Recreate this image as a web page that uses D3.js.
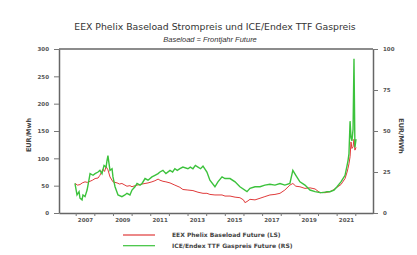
<!DOCTYPE html>
<html>
<head>
<meta charset="utf-8">
<script src="https://cdn.jsdelivr.net/npm/d3@7"></script>
<style>
  body { margin: 0; background: #fff; }
  text { font-family: "DejaVu Sans", Verdana, sans-serif; }
</style>
</head>
<body>
<script>
// Data (decimal year, value)
const powerYears = [2006.96, 2007.1, 2007.23, 2007.35, 2007.5, 2007.62, 2007.77, 2007.9, 2008.04, 2008.2, 2008.3, 2008.46, 2008.55, 2008.63, 2008.73, 2008.84, 2009.0, 2009.11, 2009.22, 2009.35, 2009.48, 2009.64, 2009.75, 2009.91, 2010.02, 2010.18, 2010.29, 2010.45, 2010.56, 2010.72, 2010.88, 2011.09, 2011.25, 2011.42, 2011.52, 2011.68, 2011.84, 2012.06, 2012.32, 2012.59, 2012.75, 2013.02, 2013.29, 2013.56, 2013.83, 2014.04, 2014.2, 2014.47, 2014.85, 2015.01, 2015.28, 2015.55, 2015.81, 2016.0, 2016.08, 2016.19, 2016.35, 2016.62, 2016.89, 2017.15, 2017.42, 2017.69, 2017.96, 2018.22, 2018.49, 2018.65, 2018.81, 2019.03, 2019.3, 2019.57, 2019.84, 2020.11, 2020.27, 2020.37, 2020.48, 2020.64, 2020.86, 2021.02, 2021.23, 2021.29, 2021.45, 2021.56, 2021.61, 2021.66, 2021.72, 2021.77, 2021.82, 2021.88, 2021.93, 2021.98, 2022.04];
const powerValues = [54, 51, 52, 55, 57, 56, 58, 60, 63, 64, 69, 80, 76, 85, 79, 66, 57, 56, 55, 53, 54, 51, 49, 50, 48, 50, 51, 52, 53, 54, 55, 57, 59, 62, 60, 58, 57, 55, 51, 47, 43, 42, 41, 38, 36, 36, 34, 33, 33, 31, 31, 29, 28, 24, 19, 21, 25, 24, 27, 30, 33, 34, 36, 42, 51, 54, 49, 48, 45, 46, 44, 37, 38, 37, 38, 39, 43, 47, 52, 55, 63, 75, 82, 90, 103, 130, 118, 121, 135, 115, 120];

const gasYears = [2006.96, 2007.07, 2007.18, 2007.23, 2007.34, 2007.39, 2007.5, 2007.61, 2007.71, 2007.77, 2007.93, 2008.04, 2008.2, 2008.3, 2008.41, 2008.52, 2008.63, 2008.68, 2008.73, 2008.79, 2008.84, 2008.95, 2009.0, 2009.11, 2009.27, 2009.48, 2009.64, 2009.75, 2009.91, 2010.02, 2010.18, 2010.29, 2010.45, 2010.56, 2010.72, 2010.88, 2011.09, 2011.25, 2011.42, 2011.52, 2011.68, 2011.84, 2012.06, 2012.2, 2012.32, 2012.45, 2012.59, 2012.75, 2013.02, 2013.15, 2013.29, 2013.42, 2013.56, 2013.7, 2013.83, 2014.04, 2014.2, 2014.47, 2014.63, 2014.85, 2015.01, 2015.28, 2015.55, 2015.81, 2016.19, 2016.35, 2016.62, 2016.89, 2017.15, 2017.42, 2017.69, 2017.96, 2018.22, 2018.49, 2018.65, 2018.81, 2019.03, 2019.3, 2019.57, 2019.84, 2020.11, 2020.27, 2020.48, 2020.64, 2020.86, 2021.02, 2021.23, 2021.45, 2021.56, 2021.61, 2021.66, 2021.72, 2021.77, 2021.82, 2021.88, 2021.93, 2021.98, 2022.04];
const gasValues = [18, 11, 13, 9, 8, 11, 10, 14, 20, 24, 23, 24, 25, 26, 24, 29, 28, 32, 35, 30, 26, 27, 22, 16, 11, 10, 11, 12, 11, 14, 16, 18, 17, 18, 21, 20, 22, 23, 24, 25, 26, 24, 26, 25, 27, 26, 27, 28, 27, 28, 27, 29, 28, 27, 28.6, 25, 20, 16, 19, 22, 21, 21, 19, 16, 13, 15, 16, 16, 17, 17.5, 17, 18, 17, 18, 26, 23, 19, 17, 14, 13, 12.5, 12.4, 13, 13, 14, 16, 19, 23, 29, 32, 36, 56, 46, 44, 51, 94, 40, 45];

const leftTicks = [0, 50, 100, 150, 200, 250, 300];
const rightTicks = [0, 25, 50, 75, 100];
const yearTicks = d3.range(2007, 2023);
const yearLabels = [2007, 2009, 2011, 2013, 2015, 2017, 2019, 2021];

const width = 417, height = 255;
const margin = { top: 49, right: 44, bottom: 42, left: 59 };

const svg = d3.select("body").append("svg")
    .attr("width", width)
    .attr("height", height);

const x = d3.scaleLinear()
    .domain([2006.104, 2022.95])
    .range([margin.left, width - margin.right]);

const yL = d3.scaleLinear().domain([0, 300]).range([height - margin.bottom, margin.top]);
const yR = d3.scaleLinear().domain([0, 100]).range([height - margin.bottom, margin.top]);

// Titles
svg.append("text")
    .attr("x", 215).attr("y", 30)
    .attr("text-anchor", "middle")
    .attr("font-size", 9.3)
    .attr("fill", "#333")
    .text("EEX Phelix Baseload Strompreis und ICE/Endex TTF Gaspreis");

svg.append("text")
    .attr("x", 210).attr("y", 42)
    .attr("text-anchor", "middle")
    .attr("font-size", 7.5)
    .attr("font-style", "italic")
    .style("font-family", "'Liberation Sans', Arial, sans-serif")
    .attr("fill", "#333")
    .text("Baseload = Frontjahr Future");

// Top border
svg.append("line")
    .attr("x1", margin.left).attr("x2", width - margin.right)
    .attr("y1", margin.top).attr("y2", margin.top)
    .attr("stroke", "#666").attr("stroke-width", 1.3);

// Axes
function styleAxis(g) {
    g.select(".domain").attr("stroke", "#666").attr("stroke-width", 1.5);
    g.selectAll(".tick line").attr("stroke", "#777");
    g.selectAll("text").attr("font-size", 5.5).attr("font-weight", "bold")
        .attr("fill", "#555").style("font-family", "'DejaVu Sans', sans-serif");
}

svg.append("g")
    .attr("transform", `translate(${margin.left},0)`)
    .call(d3.axisLeft(yL).tickValues(leftTicks).tickSize(5).tickSizeOuter(0).tickPadding(5))
    .call(styleAxis);

svg.append("g")
    .attr("transform", `translate(${width - margin.right},0)`)
    .call(d3.axisRight(yR).tickValues(rightTicks).tickSize(5).tickSizeOuter(0).tickPadding(5))
    .call(styleAxis);

svg.append("g")
    .attr("transform", `translate(0,${height - margin.bottom})`)
    .call(d3.axisBottom(x).tickValues(yearTicks).tickFormat("").tickSize(3).tickSizeOuter(0))
    .call(styleAxis);

svg.append("g")
    .attr("transform", `translate(0,${height - margin.bottom})`)
    .call(d3.axisBottom(x).tickValues(yearLabels.map(d => d + 0.5)).tickFormat(d => Math.floor(d)).tickSize(0).tickPadding(5))
    .call(styleAxis)
    .call(g => g.select(".domain").remove());

// Axis titles
svg.append("text")
    .attr("transform", "translate(31,135) rotate(-90)")
    .attr("text-anchor", "middle")
    .attr("font-size", 6.5).attr("font-weight", "bold").attr("fill", "#444")
    .text("EUR/Mwh");

svg.append("text")
    .attr("transform", "translate(399,136) rotate(90)")
    .attr("text-anchor", "middle")
    .attr("font-size", 6.5).attr("font-weight", "bold").attr("fill", "#444")
    .text("EUR/MWh");

// Lines
const power = powerYears.map((d, i) => [d, powerValues[i]]);
const gas = gasYears.map((d, i) => [d, gasValues[i]]);

svg.append("path")
    .datum(power)
    .attr("fill", "none")
    .attr("stroke", "#e03a3a")
    .attr("stroke-width", 1)
    .attr("d", d3.line().x(d => x(d[0])).y(d => yL(d[1])));

svg.append("path")
    .datum(gas)
    .attr("fill", "none")
    .attr("stroke", "#3cc23c")
    .attr("stroke-width", 1.4)
    .attr("d", d3.line().x(d => x(d[0])).y(d => yR(d[1])));

// Legend
const legend = [
    { label: "EEX Phelix Baseload Future (LS)", color: "#e03a3a" },
    { label: "ICE/Endex TTF Gaspreis Future (RS)", color: "#3cc23c" }
];
const lg = svg.append("g").selectAll("g").data(legend).enter().append("g")
    .attr("transform", (d, i) => `translate(123,${235 + i * 10.7})`);
lg.append("line").attr("x1", 0).attr("x2", 32)
    .attr("stroke", d => d.color).attr("stroke-width", 1.2);
lg.append("text").attr("x", 49).attr("y", 2.2)
    .attr("font-size", 6).attr("font-weight", "bold").attr("fill", "#444")
    .text(d => d.label);
</script>
</body>
</html>
